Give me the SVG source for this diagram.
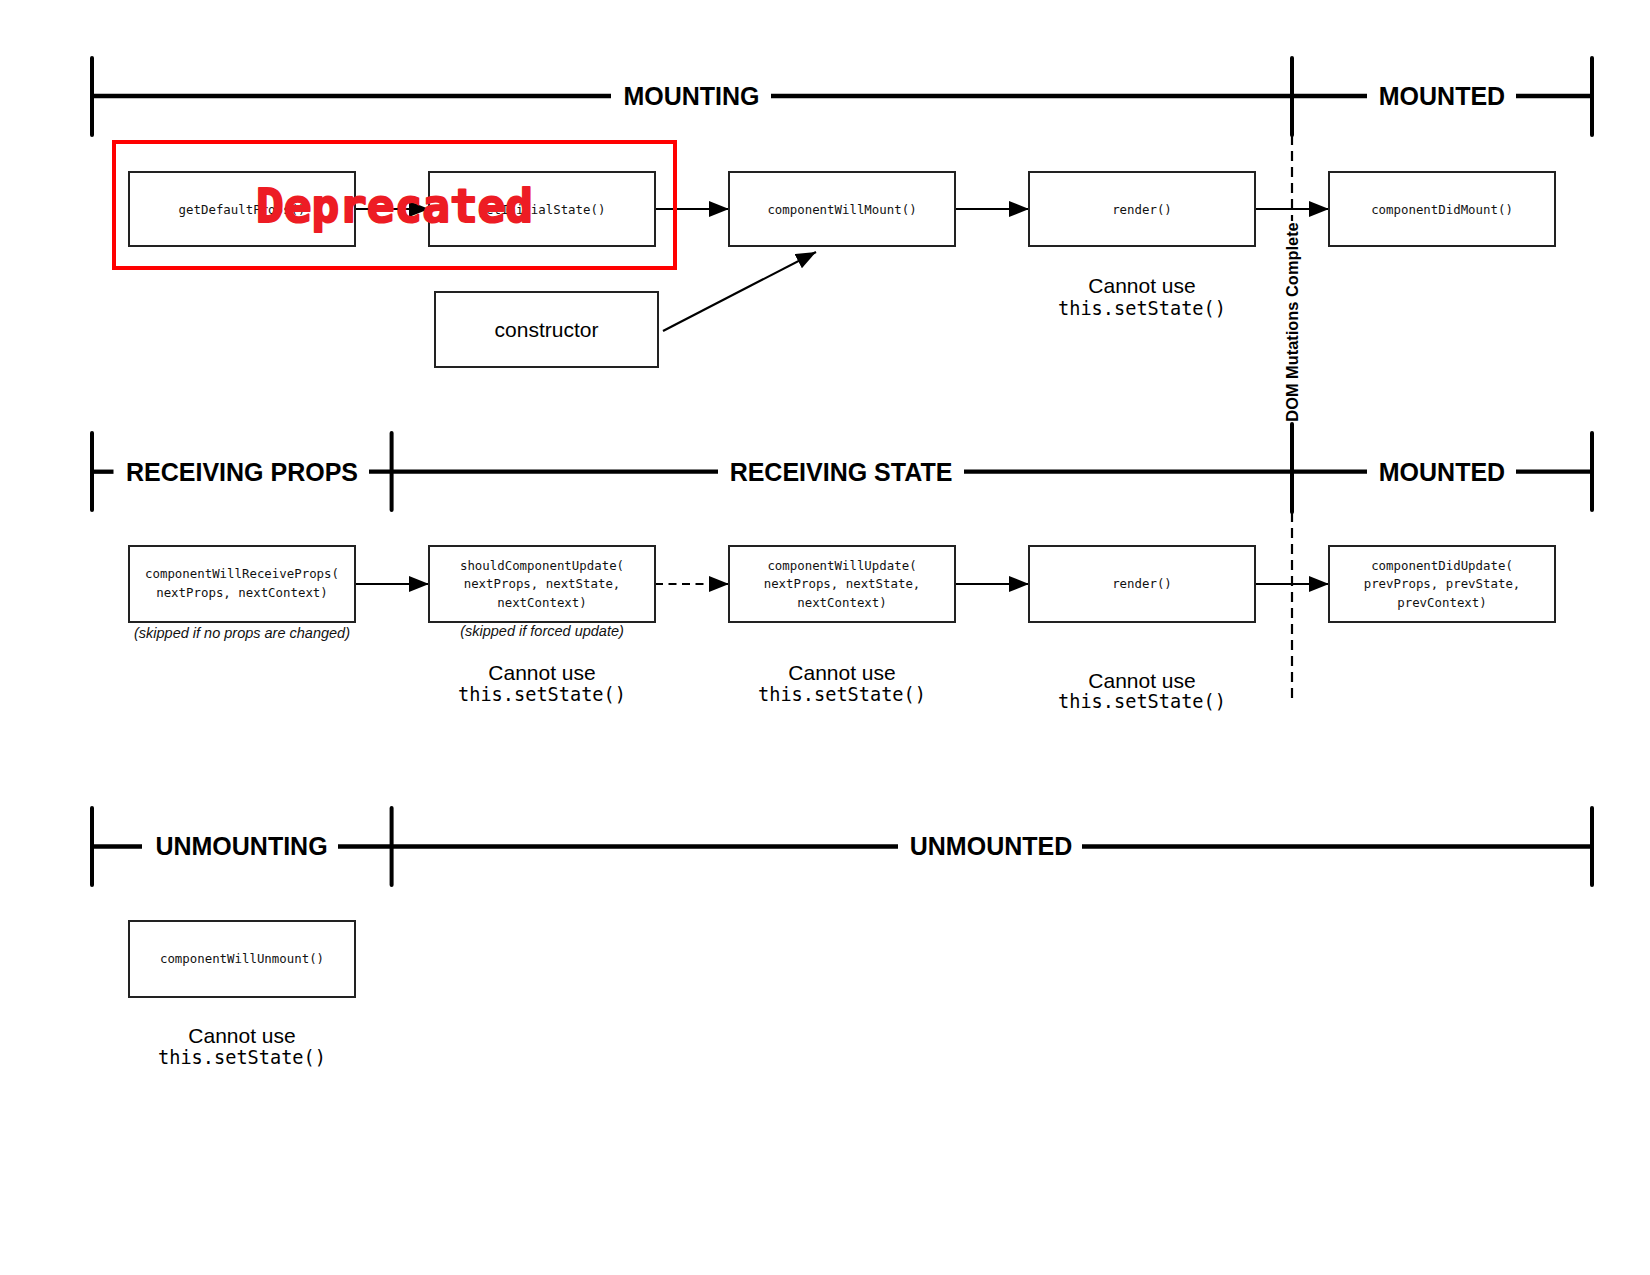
<svg xmlns="http://www.w3.org/2000/svg" width="1650" height="1275" viewBox="0 0 1650 1275">
<style>
.bg{fill:#ffffff}
.tl{stroke:#000;stroke-width:4.3;fill:none;stroke-linecap:butt}
.tick{stroke:#000;stroke-width:4;fill:none;stroke-linecap:round}
.sec{font-family:"Liberation Sans",Arial,sans-serif;font-weight:bold;font-size:25px;fill:#000;text-anchor:middle}
.box{fill:#fff;stroke:#222;stroke-width:2}
.fn{font-family:"DejaVu Sans Mono","Liberation Mono",monospace;font-size:12.4px;fill:#111;text-anchor:middle}
.note{font-family:"Liberation Sans",Arial,sans-serif;font-style:italic;font-size:14.5px;fill:#111;text-anchor:middle}
.cu{font-family:"Liberation Sans",Arial,sans-serif;font-size:21px;fill:#000;text-anchor:middle}
.ss{font-family:"DejaVu Sans Mono","Liberation Mono",monospace;font-size:18.6px;fill:#000;text-anchor:middle}
.ar{stroke:#000;stroke-width:2.2;fill:none}
.dash{stroke-dasharray:8 5.5}
.vd{stroke:#000;stroke-width:2.2;stroke-dasharray:10 6;fill:none}
</style>
<defs>
<marker id="ah" markerUnits="userSpaceOnUse" markerWidth="21" markerHeight="17" refX="20" refY="8" orient="auto">
<path d="M0,0 L20,8 L0,16 z" fill="#000"/>
</marker>
</defs>
<rect class="bg" x="0" y="0" width="1650" height="1275"/>

<g id="timelines">
<g id="timeline-mounting">
<line class="tick" x1="92" y1="58" x2="92" y2="135"/>
<line class="tl" x1="92" y1="96" x2="611" y2="96"/>
<text class="sec" x="691.5" y="105">MOUNTING</text>
<line class="tl" x1="771" y1="96" x2="1367" y2="96"/>
<text class="sec" x="1442" y="105">MOUNTED</text>
<line class="tl" x1="1516" y1="96" x2="1592" y2="96"/>
<line class="tick" x1="1292" y1="58" x2="1292" y2="135"/>
<line class="tick" x1="1592" y1="58" x2="1592" y2="135"/>
</g>
<g id="timeline-receiving">
<line class="tick" x1="92" y1="433" x2="92" y2="510"/>
<line class="tl" x1="92" y1="471.7" x2="113.5" y2="471.7"/>
<text class="sec" x="242" y="480.5">RECEIVING PROPS</text>
<line class="tl" x1="369" y1="471.7" x2="718" y2="471.7"/>
<line class="tick" x1="391.6" y1="433" x2="391.6" y2="510"/>
<text class="sec" x="841" y="480.5">RECEIVING STATE</text>
<line class="tl" x1="964" y1="471.7" x2="1367" y2="471.7"/>
<text class="sec" x="1442" y="480.5">MOUNTED</text>
<line class="tl" x1="1516" y1="471.7" x2="1592" y2="471.7"/>
<line class="tick" x1="1592" y1="433" x2="1592" y2="510"/>
</g>
<g id="timeline-unmounting">
<line class="tick" x1="92" y1="808" x2="92" y2="885"/>
<line class="tl" x1="92" y1="846.5" x2="142" y2="846.5"/>
<text class="sec" x="241.5" y="855">UNMOUNTING</text>
<line class="tl" x1="338" y1="846.5" x2="898" y2="846.5"/>
<line class="tick" x1="391.6" y1="808" x2="391.6" y2="885"/>
<text class="sec" x="991" y="855">UNMOUNTED</text>
<line class="tl" x1="1082" y1="846.5" x2="1592" y2="846.5"/>
<line class="tick" x1="1592" y1="808" x2="1592" y2="885"/>
</g>
<g id="dom-mutations-complete">
<line class="vd" x1="1292" y1="135" x2="1292" y2="221"/>
<text transform="translate(1297.5,322) rotate(-90)" font-family="Liberation Sans,Arial,sans-serif" font-weight="bold" font-size="16.4" text-anchor="middle" fill="#000">DOM Mutations Complete</text>
<line class="tick" x1="1292" y1="424" x2="1292" y2="512"/>
<line class="vd" x1="1292" y1="512" x2="1292" y2="702"/>
</g>
</g>

<g id="connectors">
<line class="ar" x1="355" y1="209" x2="429" y2="209" marker-end="url(#ah)"/>
<line class="ar" x1="655" y1="209" x2="729" y2="209" marker-end="url(#ah)"/>
<line class="ar" x1="955" y1="209" x2="1029" y2="209" marker-end="url(#ah)"/>
<line class="ar" x1="1255" y1="209" x2="1329" y2="209" marker-end="url(#ah)"/>
<line class="ar" x1="663" y1="331" x2="816" y2="252" marker-end="url(#ah)"/>
<line class="ar" x1="355" y1="584" x2="429" y2="584" marker-end="url(#ah)"/>
<line class="ar dash" x1="655" y1="584" x2="729" y2="584" marker-end="url(#ah)"/>
<line class="ar" x1="955" y1="584" x2="1029" y2="584" marker-end="url(#ah)"/>
<line class="ar" x1="1255" y1="584" x2="1329" y2="584" marker-end="url(#ah)"/>
</g>

<g id="getDefaultProps">
<rect class="box" x="129" y="172" width="226" height="74"/>
<text class="fn" x="242" y="213.5">getDefaultProps()</text>
</g>
<g id="getInitialState">
<rect class="box" x="429" y="172" width="226" height="74"/>
<text class="fn" x="542" y="213.5">getInitialState()</text>
</g>
<g id="componentWillMount">
<rect class="box" x="729" y="172" width="226" height="74"/>
<text class="fn" x="842" y="213.5">componentWillMount()</text>
</g>
<g id="render-mount">
<rect class="box" x="1029" y="172" width="226" height="74"/>
<text class="fn" x="1142" y="213.5">render()</text>
<text class="cu" x="1142" y="293">Cannot use</text>
<text class="ss" x="1142" y="315">this.setState()</text>
</g>
<g id="componentDidMount">
<rect class="box" x="1329" y="172" width="226" height="74"/>
<text class="fn" x="1442" y="213.5">componentDidMount()</text>
</g>
<g id="constructor">
<rect class="box" x="435" y="292" width="223" height="75"/>
<text x="546.5" y="337" font-family="Liberation Sans,Arial,sans-serif" font-size="21" text-anchor="middle" fill="#000">constructor</text>
</g>

<g id="componentWillReceiveProps">
<rect class="box" x="129" y="546" width="226" height="76"/>
<text class="fn" x="242" y="578">componentWillReceiveProps(</text>
<text class="fn" x="242" y="597">nextProps, nextContext)</text>
<text class="note" x="242" y="638">(skipped if no props are changed)</text>
</g>
<g id="shouldComponentUpdate">
<rect class="box" x="429" y="546" width="226" height="76"/>
<text class="fn" x="542" y="569.5">shouldComponentUpdate(</text>
<text class="fn" x="542" y="588">nextProps, nextState,</text>
<text class="fn" x="542" y="606.5">nextContext)</text>
<text class="note" x="542" y="636">(skipped if forced update)</text>
<text class="cu" x="542" y="680">Cannot use</text>
<text class="ss" x="542" y="701">this.setState()</text>
</g>
<g id="componentWillUpdate">
<rect class="box" x="729" y="546" width="226" height="76"/>
<text class="fn" x="842" y="569.5">componentWillUpdate(</text>
<text class="fn" x="842" y="588">nextProps, nextState,</text>
<text class="fn" x="842" y="606.5">nextContext)</text>
<text class="cu" x="842" y="680">Cannot use</text>
<text class="ss" x="842" y="701">this.setState()</text>
</g>
<g id="render-update">
<rect class="box" x="1029" y="546" width="226" height="76"/>
<text class="fn" x="1142" y="588">render()</text>
<text class="cu" x="1142" y="687.5">Cannot use</text>
<text class="ss" x="1142" y="708">this.setState()</text>
</g>
<g id="componentDidUpdate">
<rect class="box" x="1329" y="546" width="226" height="76"/>
<text class="fn" x="1442" y="569.5">componentDidUpdate(</text>
<text class="fn" x="1442" y="588">prevProps, prevState,</text>
<text class="fn" x="1442" y="606.5">prevContext)</text>
</g>

<g id="componentWillUnmount">
<rect class="box" x="129" y="921" width="226" height="76"/>
<text class="fn" x="242" y="963">componentWillUnmount()</text>
<text class="cu" x="242" y="1043">Cannot use</text>
<text class="ss" x="242" y="1064">this.setState()</text>
</g>

<g id="deprecated">
<rect x="114" y="142" width="561" height="126" fill="none" stroke="#ff0000" stroke-width="4"/>
<text x="256" y="221.5" font-family="DejaVu Sans Mono,Liberation Mono,monospace" font-weight="bold" font-size="47" textLength="277" lengthAdjust="spacingAndGlyphs" fill="#ED1C24" stroke="#ED1C24" stroke-width="2" stroke-linejoin="round">Deprecated</text>
</g>
</svg>
